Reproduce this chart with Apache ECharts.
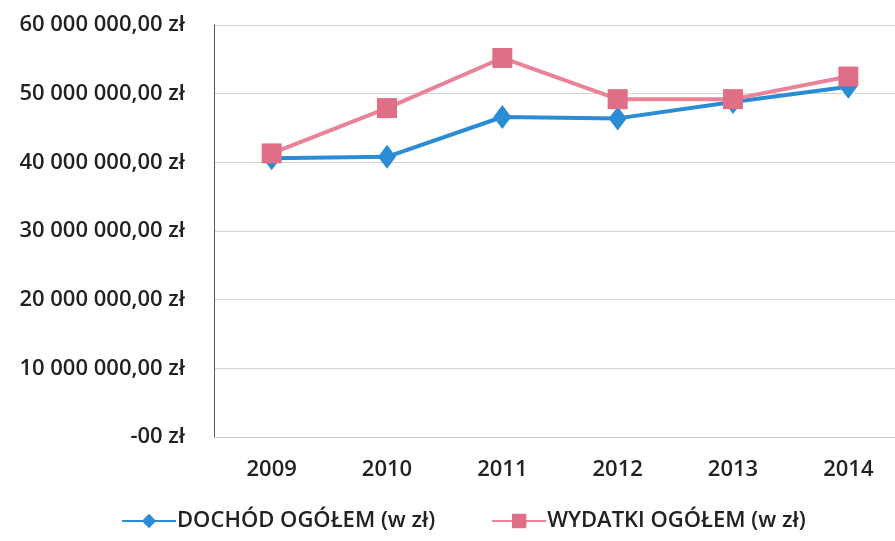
<!DOCTYPE html>
<html style="height: 100%">

<head>
  <meta charset="utf-8">
</head>

<body style="height: 100%; margin: 0; background: #fff">
  <div id="container" style="height: 100%"></div>
  <script type="text/javascript" src="https://cdn.jsdelivr.net/npm/echarts@6/dist/echarts.min.js"></script>
  <script type="text/javascript">
    var years = ['2009', '2010', '2011', '2012', '2013', '2014'];
    var dochod = [40600000, 40800000, 46600000, 46400000, 48800000, 51000000];
    var wydatki = [41300000, 47900000, 55200000, 49200000, 49200000, 52500000];
    var seriesNames = ['DOCHÓD OGÓŁEM (w zł)', 'WYDATKI OGÓŁEM (w zł)'];

    function zl(v) {
      if (v === 0) return '-00 zł';
      var s = String(Math.round(v)).replace(/\B(?=(\d{3})+(?!\d))/g, ' ');
      return s + ',00 zł';
    }

    var dom = document.getElementById("container");
    var myChart = echarts.init(dom);
    var font = 'Open Sans';

    var option = {
      animation: false,
      grid: {
        left: 214,
        width: 692,
        top: 25,
        bottom: 104,
        outerBoundsMode: 'none'
      },
      legend: {
        bottom: 4,
        left: 116,
        itemWidth: 54,
        itemHeight: 18,
        itemGap: 56,
        textStyle: { fontFamily: font, fontSize: 22, color: '#222', fontWeight: 600, padding: [0, 0, 0, -4] },
        data: seriesNames
      },
      xAxis: {
        type: 'category',
        data: years,
        axisLine: { lineStyle: { color: '#c8c8c8' } },
        axisTick: { show: false },
        axisLabel: { fontFamily: font, fontSize: 22, color: '#222', fontWeight: 600, margin: 22 }
      },
      yAxis: {
        type: 'value',
        min: 0,
        max: 60000000,
        interval: 10000000,
        axisLine: { show: true, lineStyle: { color: '#555' } },
        axisTick: { show: false },
        splitLine: { lineStyle: { color: '#d4d4d4' } },
        axisLabel: {
          formatter: zl,
          fontFamily: font,
          fontSize: 22,
          fontWeight: 600,
          color: '#222',
          margin: 29
        }
      },
      series: [
        {
          name: seriesNames[0],
          type: 'line',
          data: dochod,
          symbol: 'diamond',
          symbolSize: [18, 24],
          lineStyle: { color: '#2a8cd4', width: 4 },
          itemStyle: { color: '#2a8cd4' }
        },
        {
          name: seriesNames[1],
          type: 'line',
          data: wydatki,
          symbol: 'rect',
          symbolSize: 20,
          lineStyle: { color: '#ea8298', width: 4 },
          itemStyle: { color: '#de6f86' }
        }
      ]
    };

    myChart.setOption(option);
  </script>
</body>

</html>
